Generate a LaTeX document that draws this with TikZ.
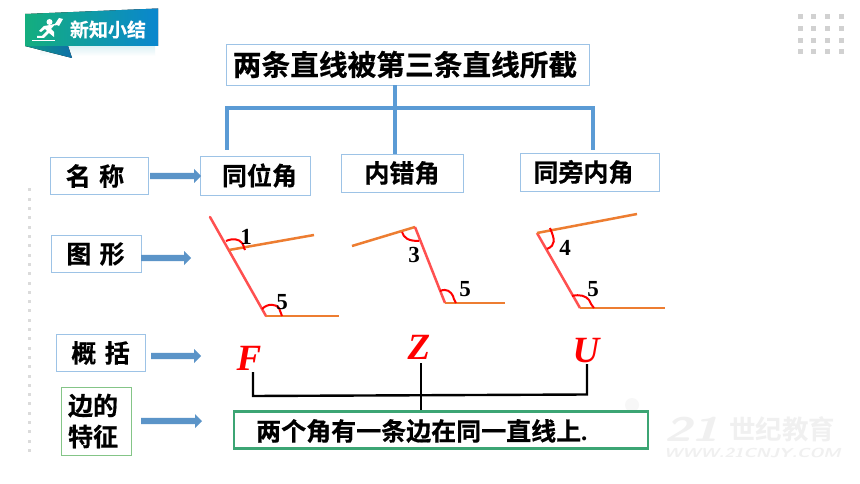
\documentclass[tikz,border=0pt]{standalone}
\usepackage{fontspec}
\setmainfont{Liberation Serif}
\newfontfamily\cjk{Noto Sans CJK SC Bold}[FakeBold=0.5]
\newfontfamily\cjkw{Noto Sans CJK SC Bold}
\usetikzlibrary{arrows.meta,calc,shapes.arrows}
\definecolor{boxblue}{HTML}{9DC3E6}
\definecolor{treeblue}{HTML}{5B9BD5}
\definecolor{arrowblue}{HTML}{5B94C8}
\definecolor{redline}{HTML}{FF5050}
\definecolor{orangeline}{HTML}{ED7D31}
\definecolor{greenbox}{HTML}{3CA574}
\definecolor{lgreen}{HTML}{84C587}
\definecolor{banL}{HTML}{14AE7E}
\definecolor{banR}{HTML}{0A86CE}
\definecolor{tailL}{HTML}{0E9A86}
\definecolor{tailR}{HTML}{0F6FA8}
\definecolor{shad}{HTML}{DDF1F5}
\tikzset{
 lbl/.style={draw=boxblue,line width=0.9pt,inner sep=0pt,font=\cjk\fontsize{25}{27}\selectfont,text=black},
 tree/.style={draw=treeblue,line width=3.8pt},
 fatarrow/.style={fill=arrowblue,draw=none},
 ray/.style={draw=redline,line width=2.5pt},
 arm/.style={draw=orangeline,line width=2.5pt},
 ang/.style={draw=red,line width=2pt},
 num/.style={font=\bfseries\fontsize{23}{25}\selectfont,text=black,inner sep=0pt},
 letter/.style={font=\bfseries\itshape\fontsize{37}{40}\selectfont,text=red,inner sep=0pt},
 brk/.style={draw=black,line width=2.4pt},
 dotc/.style={fill=black!18,draw=none},
 wm/.style={inner sep=0pt,anchor=west,text=black!6},
}
\newcommand{\fatarr}[3]{% x1 x2 y
 \fill[fatarrow] (#1,#3-3.2) -- (#2-7,#3-3.2) -- (#2-7,#3-7) -- (#2,#3) -- (#2-7,#3+7) -- (#2-7,#3+3.2) -- (#1,#3+3.2) -- cycle;}
\begin{document}
\begin{tikzpicture}[x=1pt,y=-1pt]
\useasboundingbox (0,0) rectangle (860,484);
\fill[white] (0,0) rectangle (860,484);
% dots top right
\foreach \x in {800,813.5,827.5,841}\foreach \y in {17,29,40.5,52}{\fill[dotc] (\x-2.5,\y-2.5) rectangle (\x+2.5,\y+2.5);}
% dots left
\foreach \y in {190,199.3,...,458}{\fill[black!14] (28,\y-1.5) rectangle (31,\y+1.5);}
% watermark
\fill[black!3] (632,405) circle (7);
\node[wm,font=\sffamily\bfseries\itshape\fontsize{34}{36}\selectfont] (wm1) at (664,429) {\scalebox{1.45}[1]{21}};
\node[wm,font=\cjkw\fontsize{26.5}{28}\selectfont] (wm2) at (729,429) {世纪教育};
\node[wm,font=\sffamily\bfseries\itshape\fontsize{13}{14}\selectfont] (wm3) at (664,453) {\scalebox{1.35}[1]{WWW.21CNJY.COM}};
% banner
\shade[top color=shad,bottom color=white] (40,46) rectangle (155,56);
\fill[left color=tailL,right color=tailR] (25,46) -- (68,46) -- (72,58) -- cycle;
\fill[left color=banL,right color=banR] (25,14) -- (158,8.5) -- (158,46) -- (25,46) -- cycle;
\node[inner sep=0pt,text=white,font=\cjk\fontsize{19}{21}\selectfont] (banner) at (108,29.5) {新知小结};
\fill[white] (49.5,22) circle (3);
\fill[white] (50,25) -- (44,26) -- (39,31) -- (41,32) -- (45,29) -- (47,31) -- (42,36) -- (37,36) -- (37,38) -- (44,38) -- (49,33) -- (54,37) -- (54,32) -- (51,29) -- (54,25.5) -- (58,25) -- (59,23) -- cycle;
\fill[white] (55,24) -- (59,18) -- (63,19) -- (59,26) -- cycle;
\draw[white,line width=.5pt] (32,40) -- (55,40);
% title and tree
\node[lbl,minimum width=363pt,minimum height=41pt] (title) at (407.5,64.5) {};
\node[inner sep=0pt,anchor=center,text=black,font=\cjk\fontsize{28.7}{31}\selectfont] (titlet) at (405,64.5) {两条直线被第三条直线所截};
\node[lbl,minimum width=110pt,minimum height=39pt] (tw) at (255,175.5) {\kern9pt 同位角};
\node[lbl,minimum width=122pt,minimum height=38pt] (nc) at (402,173) {内错角};
\node[lbl,minimum width=139pt,minimum height=38pt] (tp) at (589.5,172) {\kern-12pt 同旁内角};
\coordinate (j1) at (395,108);
\draw[tree] (title.south -| j1) -- (j1);
\draw[tree] (227,150) -- (227,108) -- (593,108) -- (593,150);
\draw[tree] (j1) -- (395,154);
% left labels
\node[lbl,minimum width=98pt,minimum height=37pt] (a) at (99,176) {\kern-8pt 名\,\,称};
\node[lbl,minimum width=90pt,minimum height=37pt] (b) at (96.5,254) {\kern-2pt 图\,\,形};
\node[lbl,minimum width=89pt,minimum height=37pt] (c) at (100.5,353) {概\,\,括};
\node[lbl,draw=lgreen,minimum width=70pt,minimum height=68pt,align=center,font=\cjk\fontsize{25}{31}\selectfont] (d) at (96,421) {\kern-6pt 边的\\\kern-6pt 特征};
\fatarr{150}{201}{176}
\fatarr{141}{191}{258}
\fatarr{151}{201}{356}
\fatarr{141}{202}{421}
% figure 1
\draw[ray,line cap=round] (210,217) -- (266,316);
\draw[arm] (229,250) -- (314,235);
\draw[arm] (266,316) -- (339,316);
\draw[ang] (226,241) .. controls (233,238) and (239,239) .. (242,243) .. controls (245,247) and (243,249) .. (245,250);
\draw[ang] (262,309) .. controls (268,303) and (276,304) .. (279,308) .. controls (281,311) and (280,313) .. (282,316);
\node[num] (n1) at (246,237) {1};
\node[num] (n5a) at (282,302) {5};
% figure 2
\draw[arm] (352,246) -- (415,227);
\draw[ray] (415,227) -- (445,303);
\draw[arm] (445,303) -- (505,303);
\draw[ang] (402,232) .. controls (404,238) and (408,241) .. (419,241);
\draw[ang] (440,291) .. controls (447,288) and (451,292) .. (453,296) .. controls (454,300) and (455,301) .. (456,303);
\node[num] (n3) at (414,255) {3};
\node[num] (n5b) at (465,289) {5};
% figure 3
\draw[ray] (537,233) -- (580,308);
\draw[arm] (537,233) -- (637,214);
\draw[arm] (580,308) -- (665,308);
\draw[ang] (550,228) .. controls (555,240) and (556,245) .. (547,249);
\draw[ang] (572,296) .. controls (580,294) and (586,296) .. (589,300) .. controls (591,304) and (592,306) .. (594,308);
\node[num] (n4) at (565,248) {4};
\node[num] (n5c) at (593,289) {5};
% letters
\node[letter] (F) at (249,358) {F};
\node[letter] (Z) at (419,347) {Z};
\node[letter] (U) at (586,351) {U};
% bracket
\node[draw=greenbox,line width=2.2pt,inner sep=0pt,minimum width=414pt,minimum height=37pt] (e) at (441,430) {};
\node[inner sep=0pt,anchor=west,text=black,font=\cjk\fontsize{25}{27}\selectfont] (et) at (256,431) {两个角有一条边在同一直线上\rlap{\rmfamily\bfseries .}};
\coordinate (fb) at (253,372);
\coordinate (zb) at (421,363);
\coordinate (ub) at (587,364);
\draw[brk] (fb) -- (253,396) -- (587,394.5) -- (ub);
\draw[brk] (zb) -- (e.north -| zb);
\end{tikzpicture}
\end{document}
